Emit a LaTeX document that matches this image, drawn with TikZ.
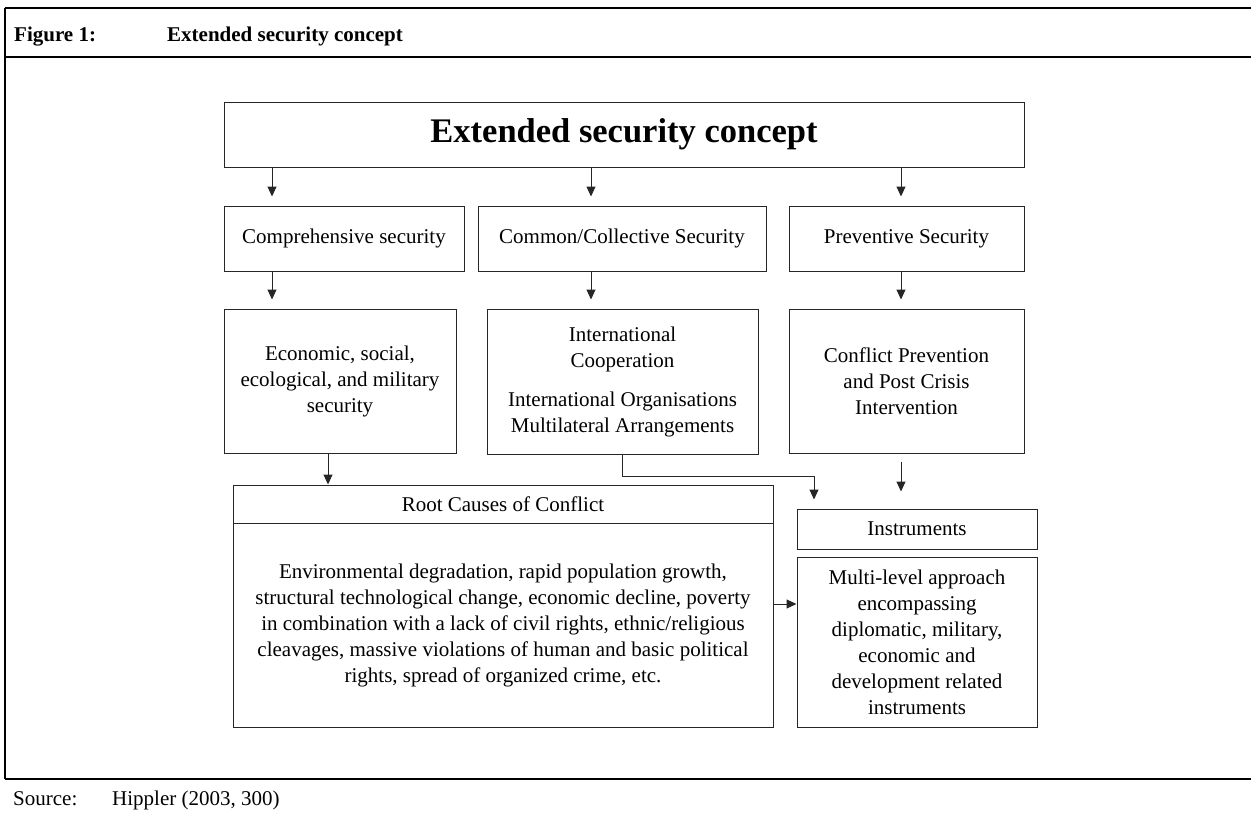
\documentclass[tikz,border=0pt]{standalone}
\usepackage{fontspec}
\setmainfont{Liberation Serif}
\usetikzlibrary{arrows.meta}

\begin{document}
\begin{tikzpicture}[x=1pt,y=-1pt,
    every node/.style={font=\fontsize{21}{26}\selectfont},
    box/.style={draw=black!85,line width=1pt,align=center,inner sep=0pt},
    arr/.style={draw=black!85,line width=1pt,-{Triangle[length=10pt,width=9pt]},shorten >=9pt},
    frame/.style={line width=2.5pt}]
    \useasboundingbox (0,0) rectangle (1251,822);
    \draw[frame] (5,8) -- (1251,8);
    \draw[frame] (5,57) -- (1251,57);
    \draw[frame] (5,779) -- (1251,779);
    \draw[frame] (5,8) -- (5,779);
    \node[anchor=base west,inner sep=0pt,font=\fontsize{21}{26}\selectfont\bfseries] (figno) at (14,41) {Figure 1:};
    \node[anchor=base west,inner sep=0pt,font=\fontsize{21}{26}\selectfont\bfseries] (figtitle) at (167,41) {Extended security concept};
    \node[anchor=base west,inner sep=0pt] (srclabel) at (13,805) {Source:};
    \node[anchor=base west,inner sep=0pt] (srcref) at (112,805) {Hippler (2003, 300)};
    \draw
    (624,134.5) node[box,minimum width=800pt,minimum height=65pt,font=\fontsize{34.5}{40}\selectfont\bfseries] (top) {Extended security concept}
    (344,238.5) node[box,minimum width=240pt,minimum height=65pt] (comp) {Comprehensive security}
    (622,238.5) node[box,minimum width=288pt,minimum height=65pt] (common) {Common/Collective Security}
    (906.5,238.5) node[box,minimum width=235pt,minimum height=65pt] (prev) {Preventive Security}
    (340,381) node[box,minimum width=232pt,minimum height=144pt] (econ) {Economic, social,\\ecological, and military\\security}
    (622.5,381.5) node[box,minimum width=271pt,minimum height=145pt] (intl) {International\\Cooperation\\[13pt]International Organisations\\Multilateral Arrangements}
    (906.5,381) node[box,minimum width=235pt,minimum height=144pt] (conflict) {Conflict Prevention\\and Post Crisis\\Intervention}
    (503,504) node[box,minimum width=540pt,minimum height=38pt] (roothead) {Root Causes of Conflict}
    (503,625) node[box,minimum width=540pt,minimum height=204pt] (rootbody) {Environmental degradation, rapid population growth,\\structural technological change, economic decline, poverty\\in combination with a lack of civil rights, ethnic/religious\\cleavages, massive violations of human and basic political\\rights, spread of organized crime, etc.}
    (917,529) node[box,minimum width=240pt,minimum height=40pt] (instrhead) {Instruments}
    (917,642) node[box,minimum width=240pt,minimum height=170pt] (instrbody) {Multi-level approach\\encompassing\\diplomatic, military,\\economic and\\development related\\instruments}
    ;
    \draw[arr] (top.south -| 272,0) -- (comp.north -| 272,0);
    \draw[arr] (top.south -| 591,0) -- (common.north -| 591,0);
    \draw[arr] (top.south -| 901,0) -- (prev.north -| 901,0);
    \draw[arr] (comp.south -| 272,0) -- (econ.north -| 272,0);
    \draw[arr] (common.south -| 591,0) -- (intl.north -| 591,0);
    \draw[arr] (prev.south -| 901,0) -- (conflict.north -| 901,0);
    \draw[arr,shorten >=0pt] (econ.south -| 328,0) -- (roothead.north -| 328,0);
    \draw[arr] (intl.south) -- ++(0,22) -| (instrhead.north -| 814,0);
    \draw[arr,shorten <=8pt,shorten >=17pt] (conflict.south -| 901,0) -- (instrhead.north -| 901,0);
    \draw[arr,shorten >=0pt] (rootbody.east |- 0,604) -- (instrbody.west |- 0,604);
\end{tikzpicture}
\end{document}
